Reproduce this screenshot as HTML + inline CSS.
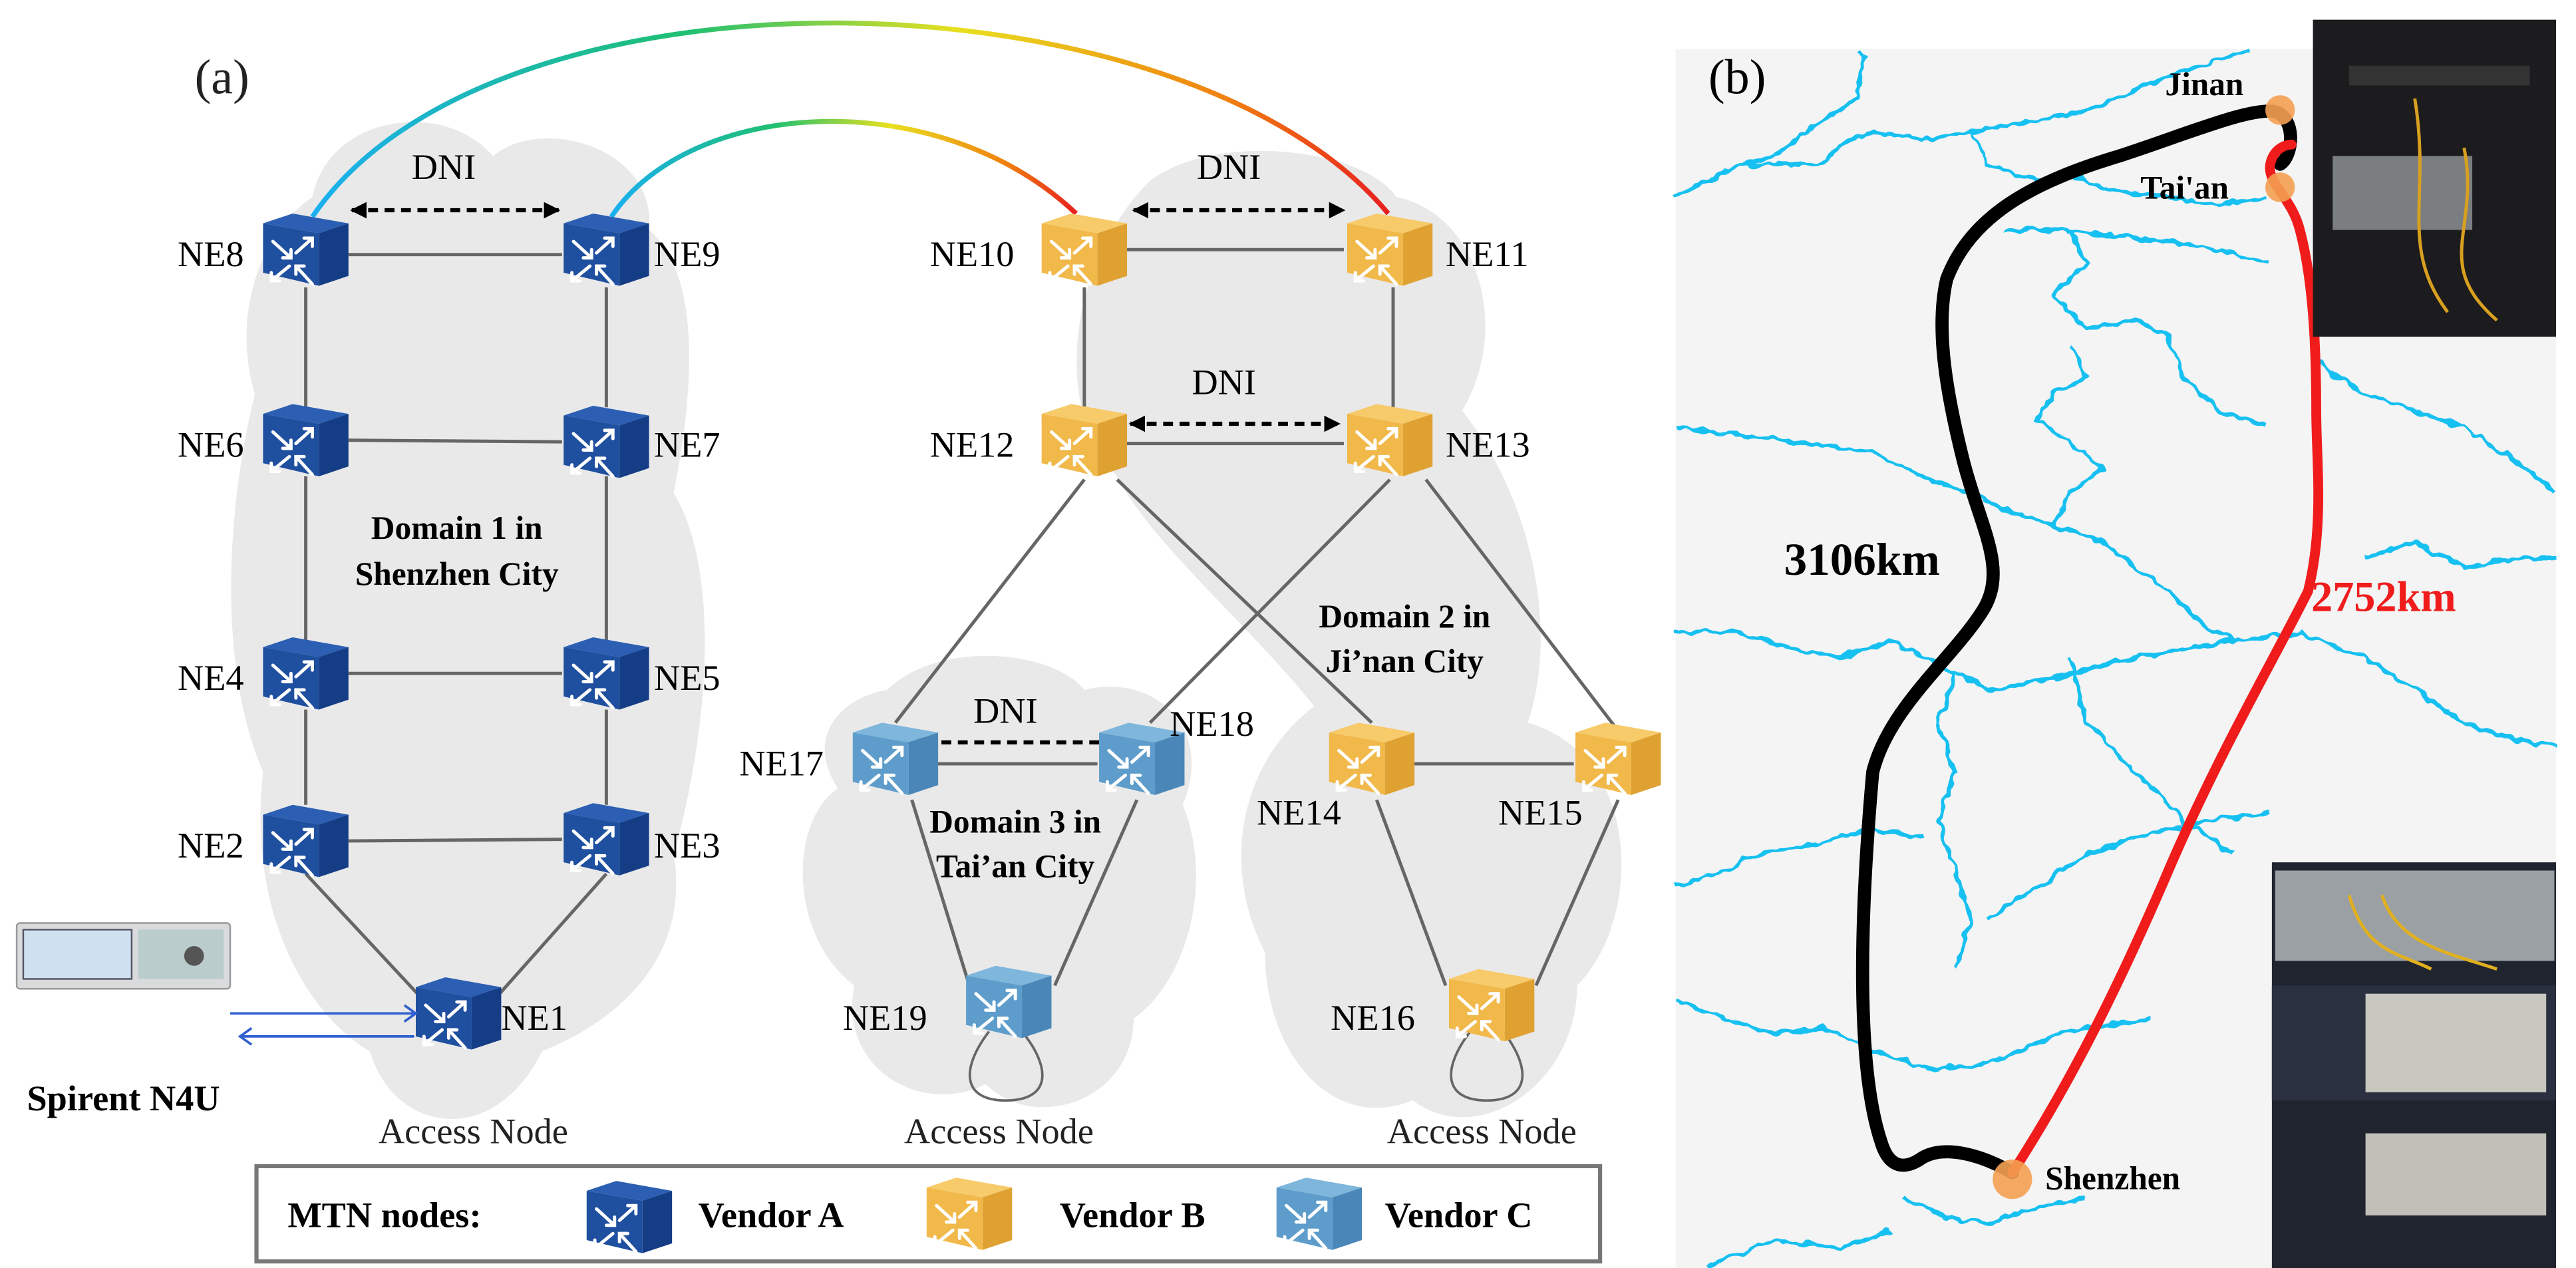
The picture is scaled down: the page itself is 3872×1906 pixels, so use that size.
<!DOCTYPE html>
<html><head><meta charset="utf-8"><style>
html,body{margin:0;padding:0;background:#fff;}
svg{display:block;}
svg text{font-family:"Liberation Serif","Times New Roman","Times",serif;}
</style></head><body>
<svg width="3872" height="1906" viewBox="0 0 1568 772" xmlns="http://www.w3.org/2000/svg" font-family="'Liberation Serif', 'Times New Roman', Times, serif">
<defs>
<filter id="wig" x="-5%" y="-5%" width="110%" height="110%"><feTurbulence type="fractalNoise" baseFrequency="0.12" numOctaves="2" seed="3"/><feDisplacementMap in="SourceGraphic" scale="6" xChannelSelector="R" yChannelSelector="G"/></filter>
<linearGradient id="arc1" x1="190" y1="0" x2="845" y2="0" gradientUnits="userSpaceOnUse">
<stop offset="0" stop-color="#1ab0f0"/><stop offset="0.35" stop-color="#1fc070"/><stop offset="0.6" stop-color="#e8e020"/><stop offset="0.85" stop-color="#f08010"/><stop offset="1" stop-color="#e82020"/></linearGradient>
<linearGradient id="arc2" x1="372" y1="0" x2="655" y2="0" gradientUnits="userSpaceOnUse">
<stop offset="0" stop-color="#1ab0f0"/><stop offset="0.35" stop-color="#1fc070"/><stop offset="0.6" stop-color="#e8e020"/><stop offset="0.85" stop-color="#f08010"/><stop offset="1" stop-color="#e82020"/></linearGradient>
<marker id="ah" markerWidth="10" markerHeight="10" refX="9" refY="5" orient="auto-start-reverse" markerUnits="userSpaceOnUse"><path d="M0,0 L10,5 L0,10 z" fill="#000"/></marker>
<g id="arrows" stroke="#fff" stroke-width="2" fill="none" stroke-linecap="round">
<path d="M-20,-5 L-9,5 M-9,0 L-9,5 L-14,5"/><path d="M-6,2 L4,-7 M-1,-7 L4,-7 L4,-2"/>
<path d="M-10,10 L-21,19 M-21,14 L-21,19 L-16,19"/><path d="M4,21 L-6,10 M-6,15 L-6,10 L-1,10"/>
</g>
<g id="nA"><polygon points="-26,-16 -8,-22 26,-16 8,-10" fill="#2c5fb3"/><polygon points="8,-10 26,-16 26,16 8,22" fill="#153d86"/><polygon points="-26,-16 8,-10 8,22 -26,14" fill="#1f4f9f"/><use href="#arrows"/></g>
<g id="nB"><polygon points="-26,-16 -8,-22 26,-16 8,-10" fill="#f7ca6a"/><polygon points="8,-10 26,-16 26,16 8,22" fill="#dfa232"/><polygon points="-26,-16 8,-10 8,22 -26,14" fill="#f1b84a"/><use href="#arrows"/></g>
<g id="nC"><polygon points="-26,-16 -8,-22 26,-16 8,-10" fill="#7fb6dc"/><polygon points="8,-10 26,-16 26,16 8,22" fill="#4a87b8"/><polygon points="-26,-16 8,-10 8,22 -26,14" fill="#5e9dcb"/><use href="#arrows"/></g>
</defs>
<rect width="1568" height="772" fill="#fff"/>
<g fill="#e9e9e9">
<path d="M190,120 C200,70 270,60 300,95 C330,70 400,90 395,140 C430,170 420,250 410,300 C440,350 430,450 410,520 C420,580 380,620 330,640 C300,700 240,690 225,640 C190,620 150,560 160,470 C130,400 140,300 155,240 C140,190 160,140 190,120 Z"/>
<path d="M700,110 C740,80 830,90 850,120 C900,130 920,200 890,250 C930,300 950,380 930,440 C1000,460 1000,560 960,600 C960,660 900,700 860,670 C810,690 770,640 770,580 C740,520 760,460 800,430 C760,380 700,330 680,290 C640,250 650,160 700,110 Z"/>
<path d="M540,420 C570,390 640,395 660,420 C700,410 740,440 720,490 C740,540 720,600 690,620 C690,670 630,690 600,660 C560,680 510,650 520,600 C480,570 480,500 510,480 C490,450 510,425 540,420 Z"/>
</g>
<path d="M190,132 C300,-30 720,-20 845,130" fill="none" stroke="url(#arc1)" stroke-width="3"/>
<path d="M372,132 C420,60 570,50 655,130" fill="none" stroke="url(#arc2)" stroke-width="3"/>
<g stroke="#666" stroke-width="2" fill="none">
<line x1="212" y1="155" x2="342" y2="155"/><line x1="212" y1="268" x2="342" y2="269"/><line x1="212" y1="410" x2="342" y2="410"/><line x1="212" y1="512" x2="342" y2="511"/>
<line x1="186" y1="175" x2="186" y2="248"/><line x1="186" y1="290" x2="186" y2="390"/><line x1="186" y1="432" x2="186" y2="490"/>
<line x1="369" y1="175" x2="369" y2="248"/><line x1="369" y1="290" x2="369" y2="390"/><line x1="369" y1="432" x2="369" y2="490"/>
<line x1="186" y1="532" x2="254" y2="605"/><line x1="369" y1="532" x2="304" y2="605"/>
<line x1="676" y1="152" x2="818" y2="152"/><line x1="676" y1="270" x2="818" y2="270"/>
<line x1="660" y1="175" x2="660" y2="248"/><line x1="848" y1="175" x2="848" y2="248"/>
<line x1="660" y1="292" x2="545" y2="440"/><line x1="680" y1="292" x2="835" y2="440"/>
<line x1="846" y1="292" x2="700" y2="440"/><line x1="868" y1="292" x2="985" y2="445"/>
<line x1="570" y1="465" x2="668" y2="465"/><line x1="860" y1="465" x2="958" y2="465"/>
<line x1="555" y1="487" x2="590" y2="600"/><line x1="692" y1="487" x2="642" y2="600"/>
<line x1="838" y1="487" x2="880" y2="600"/><line x1="985" y1="487" x2="935" y2="600"/>
<path d="M602,628 C585,650 585,670 612,670 C640,670 640,650 622,628" stroke-width="1.5"/>
<path d="M895,628 C878,650 878,670 905,670 C932,670 932,650 915,628" stroke-width="1.5"/>
</g>
<g stroke="#000" stroke-width="2.5" stroke-dasharray="6,4" marker-start="url(#ah)" marker-end="url(#ah)">
<line x1="214" y1="128" x2="340" y2="128"/><line x1="690" y1="128" x2="818" y2="128"/>
<line x1="688" y1="258" x2="815" y2="258"/><line x1="553" y1="452" x2="683" y2="452"/>
</g>
<g font-size="22" text-anchor="middle" fill="#000" font-family="'Liberation Serif', 'Times New Roman', serif">
<text x="270" y="109">DNI</text><text x="748" y="109">DNI</text><text x="745" y="240">DNI</text><text x="612" y="440">DNI</text>
</g>
<use href="#nA" x="186" y="152"/><use href="#nA" x="369" y="152"/>
<use href="#nA" x="186" y="268"/><use href="#nA" x="369" y="269"/>
<use href="#nA" x="186" y="410"/><use href="#nA" x="369" y="410"/>
<use href="#nA" x="186" y="512"/><use href="#nA" x="369" y="511"/>
<use href="#nA" x="279" y="617"/>
<use href="#nB" x="660" y="152"/><use href="#nB" x="846" y="152"/>
<use href="#nB" x="660" y="268"/><use href="#nB" x="846" y="268"/>
<use href="#nB" x="835" y="462"/><use href="#nB" x="985" y="462"/>
<use href="#nB" x="908" y="612"/>
<use href="#nC" x="545" y="462"/><use href="#nC" x="695" y="462"/>
<use href="#nC" x="614" y="610"/>
<g font-size="22" fill="#000" font-family="'Liberation Serif', 'Times New Roman', serif">
<text x="108" y="162">NE8</text><text x="398" y="162">NE9</text>
<text x="108" y="278">NE6</text><text x="398" y="278">NE7</text>
<text x="108" y="420">NE4</text><text x="398" y="420">NE5</text>
<text x="108" y="522">NE2</text><text x="398" y="522">NE3</text>
<text x="305" y="627">NE1</text>
<text x="566" y="162">NE10</text><text x="880" y="162">NE11</text>
<text x="566" y="278">NE12</text><text x="880" y="278">NE13</text>
<text x="450" y="472">NE17</text><text x="712" y="448">NE18</text>
<text x="765" y="502">NE14</text><text x="912" y="502">NE15</text>
<text x="513" y="627">NE19</text><text x="810" y="627">NE16</text>
</g>
<g font-size="22" text-anchor="middle" fill="#222" font-family="'Liberation Serif', 'Times New Roman', serif">
<text x="288" y="696">Access Node</text><text x="608" y="696">Access Node</text><text x="902" y="696">Access Node</text>
<text x="135" y="57" font-size="30">(a)</text>
</g>
<g font-size="20" font-weight="bold" text-anchor="middle" fill="#000">
<text x="278" y="328">Domain 1 in</text><text x="278" y="356">Shenzhen City</text>
<text x="855" y="382">Domain 2 in</text><text x="855" y="409">Ji’nan City</text>
<text x="618" y="507">Domain 3 in</text><text x="618" y="534">Tai’an City</text>
</g>
<rect x="10" y="562" width="130" height="40" rx="2" fill="#d8dadc" stroke="#999"/>
<rect x="14" y="566" width="66" height="30" fill="#cfe0f0" stroke="#556"/>
<rect x="84" y="566" width="52" height="30" fill="#bcc"/>
<circle cx="118" cy="582" r="6" fill="#555"/>
<g stroke="#3060d0" stroke-width="1.5" fill="none">
<line x1="140" y1="617" x2="252" y2="617"/><path d="M246,612 L253,617 L246,622"/>
<line x1="146" y1="631" x2="252" y2="631"/><path d="M153,626 L146,631 L153,636"/>
</g>
<text x="75" y="676" font-size="22" font-weight="bold" text-anchor="middle">Spirent N4U</text>
<rect x="156" y="710" width="818" height="58" fill="#fff" stroke="#777" stroke-width="2.5"/>
<g font-size="22" font-weight="bold"><text x="175" y="747">MTN nodes:</text><text x="425" y="747">Vendor A</text><text x="645" y="747">Vendor B</text><text x="843" y="747">Vendor C</text></g>
<use href="#nA" x="383" y="741"/><use href="#nB" x="590" y="739"/><use href="#nC" x="803" y="739"/>
<rect x="1020" y="30" width="536" height="742" fill="#f4f4f4"/>
<g stroke="#18c0f0" stroke-width="2.4" fill="none" stroke-linejoin="round" filter="url(#wig)">
<path d="M1020,120 L1040,110 L1060,100 L1080,95 L1100,80 L1115,70 L1130,60 L1135,35 L1130,30"/>
<path d="M1060,100 L1090,100 L1110,100 L1120,88 L1140,80 L1170,85 L1200,80 L1230,75 L1260,70 L1290,60 L1310,50 L1340,40 L1370,30"/>
<path d="M1200,80 L1210,100 L1240,110 L1260,105 L1280,115 L1320,120 L1350,125 L1380,120"/>
<path d="M1220,140 L1260,140 L1300,145 L1340,150 L1380,160"/>
<path d="M1260,140 L1270,160 L1250,180 L1270,200 L1300,195 L1320,205 L1330,230 L1350,250 L1380,260"/>
<path d="M1020,260 L1060,265 L1100,270 L1140,275 L1170,290 L1200,300 L1220,310 L1250,320 L1280,330 L1300,345 L1320,360 L1340,380"/>
<path d="M1250,320 L1260,300 L1280,285 L1260,270 L1240,255 L1250,240 L1270,230 L1260,210"/>
<path d="M1020,385 L1060,385 L1090,395 L1120,400 L1150,390 L1170,400 L1190,410 L1210,420 L1240,415 L1260,410 L1300,400 L1330,395 L1360,390 L1400,385"/>
<path d="M1340,380 L1360,390 M1400,385 L1440,400 L1470,420 L1500,440 L1530,450 L1556,455"/>
<path d="M1410,220 L1440,240 L1470,250 L1500,260 L1530,280 L1556,300"/>
<path d="M1440,340 L1470,330 L1500,345 L1530,340 L1556,340"/>
<path d="M1190,410 L1180,440 L1190,470 L1180,500 L1190,530 L1200,560 L1190,590"/>
<path d="M1020,610 L1050,620 L1080,630 L1110,625 L1140,640 L1170,650 L1200,650 L1230,640 L1250,630 L1280,625 L1310,620"/>
<path d="M1210,560 L1240,540 L1270,520 L1300,510 L1340,500 L1383,495"/>
<path d="M1020,540 L1050,530 L1070,520 L1100,515 L1140,505 L1170,510"/>
<path d="M1160,730 L1180,740 L1210,745 L1240,735 L1270,730 M1040,770 L1080,755 L1120,760 L1150,750"/>
<path d="M1260,400 L1270,440 L1300,470 L1330,500 L1360,520"/>
</g>
<path d="M1225,714 C1210,705 1185,696 1170,705 C1160,712 1150,712 1145,695 C1130,650 1132,560 1140,470 C1150,430 1190,400 1208,370 C1222,345 1205,320 1195,280 C1185,240 1178,200 1185,170 C1200,130 1240,110 1290,95 C1330,82 1370,65 1385,68 C1398,72 1396,95 1388,100" fill="none" stroke="#000" stroke-width="8" stroke-linecap="round" stroke-linejoin="round"/>
<path d="M1225,714 C1260,660 1290,600 1320,530 C1350,460 1385,400 1405,360 C1415,320 1410,280 1410,250 C1410,210 1408,170 1400,140 C1395,120 1380,112 1382,100 C1384,90 1392,88 1395,88" fill="none" stroke="#f01c1c" stroke-width="6" stroke-linecap="round" stroke-linejoin="round"/>
<circle cx="1388" cy="67" r="9" fill="#f4a052" opacity="0.9"/><circle cx="1388" cy="114" r="9" fill="#f4a052" opacity="0.9"/><circle cx="1225" cy="718" r="12" fill="#f4a052" opacity="0.9"/>
<g font-size="20" font-weight="bold"><text x="1318" y="58">Jinan</text><text x="1303" y="121">Tai'an</text><text x="1245" y="724">Shenzhen</text></g>
<text x="1086" y="350" font-size="28" font-weight="bold">3106km</text>
<text x="1407" y="372" font-size="26" font-weight="bold" fill="#f01c1c">2752km</text>
<text x="1040" y="57" font-size="30" font-family="'Liberation Serif', 'Times New Roman', serif">(b)</text>
<rect x="1408" y="12" width="148" height="193" fill="#1c1b1d"/>
<rect x="1430" y="40" width="110" height="12" fill="#333"/>
<rect x="1420" y="95" width="85" height="45" fill="#7a7e80"/>
<path d="M1470,60 C1480,120 1460,150 1490,190 M1500,90 C1510,140 1480,160 1520,195" stroke="#d8a020" stroke-width="2" fill="none"/>
<rect x="1383" y="525" width="173" height="247" fill="#20242e"/>
<rect x="1385" y="530" width="170" height="55" fill="#9aa0a4"/>
<rect x="1383" y="600" width="173" height="70" fill="#2a3040"/>
<rect x="1440" y="605" width="110" height="60" fill="#c8c8c0"/>
<rect x="1440" y="690" width="110" height="50" fill="#c0c0b8"/>
<path d="M1430,545 C1440,580 1460,580 1480,590 M1450,545 C1460,575 1490,580 1520,590" stroke="#e0b020" stroke-width="2" fill="none"/>
</svg>
</body></html>
